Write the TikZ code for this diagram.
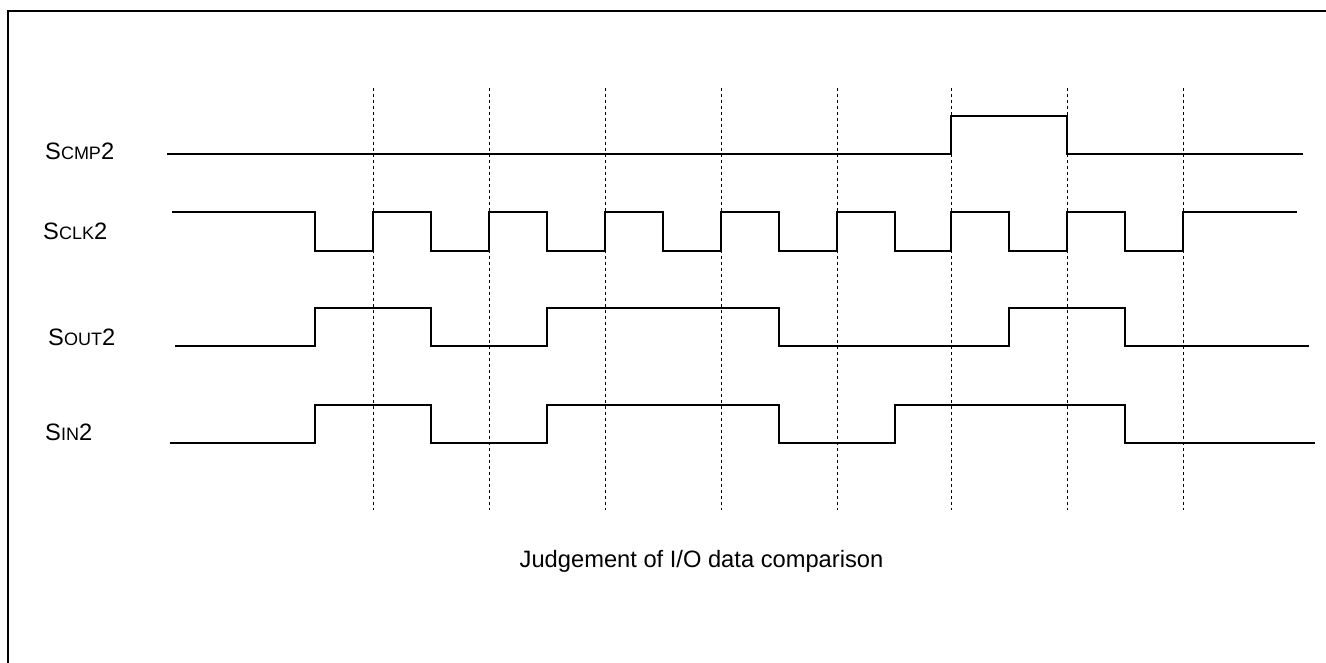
\documentclass[tikz,border=0pt]{standalone}
\usepackage{fontspec}
\setmainfont{Liberation Sans}
\newcommand{\signame}[1]{S{\fontsize{18}{20}\selectfont #1}2}
\tikzset{
  wave/.style={line width=1.4pt},
  gridline/.style={line width=0.8pt, dash pattern=on 3pt off 3pt},
  siglabel/.style={anchor=base west, inner sep=0pt, font=\fontsize{23.7}{28}\selectfont},
}
\begin{document}
\begin{tikzpicture}[x=1pt,y=-1pt]
    \useasboundingbox (0,0) rectangle (1326,663);
    % frame
    \draw[line width=2.6pt] (1330,11) -- (8,11) -- (8,670);

    % time marks
    \foreach \t in {373,489,605,721,837,951,1067,1183}
        \draw[gridline] (\t,88) -- (\t,510);

    % signal names
    \node[siglabel] (lcmp) at (45,160) {\signame{CMP}};
    \node[siglabel] (lclk) at (43,240) {\signame{CLK}};
    \node[siglabel] (lout) at (48,345) {\signame{OUT}};
    \node[siglabel] (lin) at (45,440) {\signame{IN}};

    % SCMP2
    \draw[wave] (167,154) -- (951,154) -- (951,116) -- (1067,116) -- (1067,154) -- (1303,154);

    % SCLK2
    \draw[wave] (172,212) -- (315,212) -- (315,251)
        \foreach \r/\f in {373/431,489/547,605/663,721/779,837/895,951/1009,1067/1125}
            { -- (\r,251) -- (\r,212) -- (\f,212) -- (\f,251) }
        -- (1183,251) -- (1183,212) -- (1297,212);

    % SOUT2
    \draw[wave] (175,346) -- (315,346) -- (315,308) -- (431,308) -- (431,346) -- (547,346)
        -- (547,308) -- (779,308) -- (779,346) -- (1009,346) -- (1009,308) -- (1125,308)
        -- (1125,346) -- (1309,346);

    % SIN2
    \draw[wave] (170,443) -- (315,443) -- (315,405) -- (431,405) -- (431,443) -- (547,443)
        -- (547,405) -- (779,405) -- (779,443) -- (895,443) -- (895,405) -- (1125,405)
        -- (1125,443) -- (1315,443);

    \node[anchor=base, inner sep=0pt, font=\fontsize{23.7}{28}\selectfont] (caption) at (701.5,567) {Judgement of I/O data comparison};
\end{tikzpicture}
\end{document}
